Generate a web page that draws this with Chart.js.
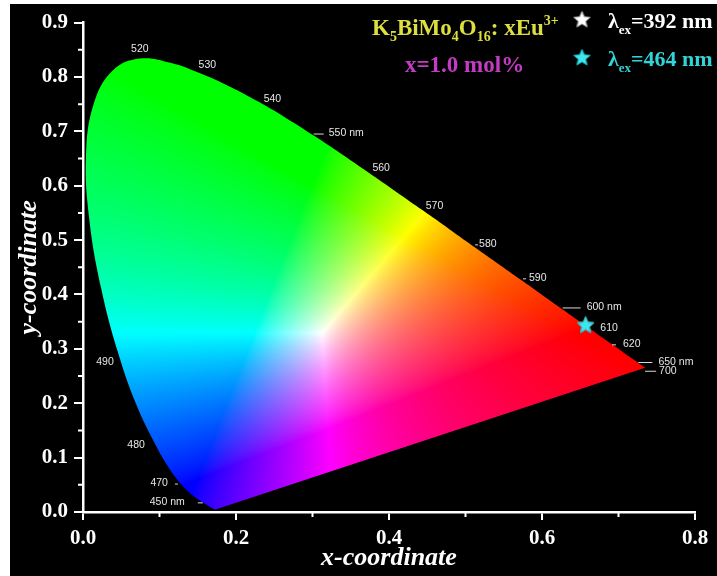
<!DOCTYPE html>
<html>
<head>
<meta charset="utf-8">
<script src="https://cdn.jsdelivr.net/npm/chart.js@4"></script>
<style>
  html, body { margin: 0; padding: 0; background: #fff; }
  #wrap { position: absolute; left: 10px; top: 4px; width: 707px; height: 572px; background: #000; }
</style>
</head>
<body>
<div id="wrap"><canvas id="cie"></canvas></div>
<script>
// CIE 1931 spectral locus, 5 nm steps
var lambdas = [380,385,390,395,400,405,410,415,420,425,430,435,440,445,450,455,460,465,470,475,
  480,485,490,495,500,505,510,515,520,525,530,535,540,545,550,555,560,565,570,575,580,585,590,595,
  600,605,610,615,620,625,630,635,640,645,650,655,660,665,670,675,680,685,690,695,700];
var locusX = [0.1741,0.1740,0.1738,0.1736,0.1733,0.1730,0.1726,0.1721,0.1714,0.1703,0.1689,0.1669,0.1644,0.1611,0.1566,0.1510,0.1440,0.1355,0.1241,0.1096,
  0.0913,0.0687,0.0454,0.0235,0.0082,0.0039,0.0139,0.0389,0.0743,0.1142,0.1547,0.1929,0.2296,0.2658,0.3016,0.3373,0.3731,0.4087,0.4441,0.4788,0.5125,0.5448,0.5752,0.6029,
  0.6270,0.6482,0.6658,0.6801,0.6915,0.7006,0.7079,0.7140,0.7190,0.7230,0.7260,0.7283,0.7300,0.7311,0.7320,0.7327,0.7334,0.7340,0.7344,0.7346,0.7347];
var locusY = [0.0050,0.0050,0.0049,0.0049,0.0048,0.0048,0.0048,0.0048,0.0051,0.0058,0.0069,0.0086,0.0109,0.0138,0.0177,0.0227,0.0297,0.0399,0.0578,0.0868,
  0.1327,0.2007,0.2950,0.4127,0.5384,0.6548,0.7502,0.8120,0.8338,0.8262,0.8059,0.7816,0.7543,0.7243,0.6923,0.6589,0.6245,0.5896,0.5547,0.5202,0.4866,0.4544,0.4242,0.3965,
  0.3725,0.3514,0.3340,0.3197,0.3083,0.2993,0.2920,0.2859,0.2809,0.2770,0.2740,0.2717,0.2700,0.2689,0.2680,0.2673,0.2666,0.2660,0.2656,0.2654,0.2653];

var markedLambdas = [450, 470, 480, 490, 520, 530, 540, 550, 560, 570, 580, 590, 600, 610, 620, 650, 700];
var markedText = ["450 nm", "470", "480", "490", "520", "530", "540", "550 nm", "560", "570", "580", "590", "600 nm", "610", "620", "650 nm", "700"];

var xTicks = [0, 0.2, 0.4, 0.6, 0.8];
var yTicks = [0, 0.1, 0.2, 0.3, 0.4, 0.5, 0.6, 0.7, 0.8, 0.9];
var xMinor = [0.1, 0.3, 0.5, 0.7];
var yMinor = [0.05, 0.15, 0.25, 0.35, 0.45, 0.55, 0.65, 0.75, 0.85];

var sampleExc = ["392", "464"];
var sampleX = [0.657, 0.657];
var sampleY = [0.344, 0.344];

var serif = "'Liberation Serif', 'Times New Roman', serif";

function gam(c) {
  return 255 * Math.pow(c, 0.75);
}

function xyToRgb(x, y) {
  if (y < 0.002) y = 0.002;
  var X = x / y, Y = 1, Z = (1 - x - y) / y;
  var r = 3.2406 * X - 1.5372 * Y - 0.4986 * Z;
  var g = -0.9689 * X + 1.8758 * Y + 0.0415 * Z;
  var b = 0.0557 * X - 0.2040 * Y + 1.0570 * Z;
  r = Math.max(r, 0); g = Math.max(g, 0); b = Math.max(b, 0);
  var m = Math.max(r, g, b);
  if (m > 0) { r /= m; g /= m; b /= m; }
  return [gam(r), gam(g), gam(b)];
}

function makeCieImage(area, xs, ys) {
  var w = Math.ceil(area.right - area.left), h = Math.ceil(area.bottom - area.top);
  var c = document.createElement("canvas");
  c.width = w; c.height = h;
  var g = c.getContext("2d");
  var img = g.createImageData(w, h);
  for (var j = 0; j < h; j++) {
    var yv = ys.getValueForPixel(area.top + j + 0.5);
    for (var i = 0; i < w; i++) {
      var xv = xs.getValueForPixel(area.left + i + 0.5);
      var rgb = xyToRgb(xv, yv);
      var k = (j * w + i) * 4;
      img.data[k] = rgb[0]; img.data[k + 1] = rgb[1]; img.data[k + 2] = rgb[2]; img.data[k + 3] = 255;
    }
  }
  g.putImageData(img, 0, 0);
  return c;
}

function makeStar(fill, edge) {
  var c = document.createElement("canvas");
  c.width = 19; c.height = 19;
  var g = c.getContext("2d");
  g.beginPath();
  for (var k = 0; k < 10; k++) {
    var r = k % 2 ? 4 : 8.8;
    var a = -Math.PI / 2 + k * Math.PI / 5;
    g.lineTo(9.5 + r * Math.cos(a), 10 + r * Math.sin(a));
  }
  g.closePath();
  g.fillStyle = fill;
  g.fill();
  g.lineWidth = 1;
  g.strokeStyle = edge;
  g.stroke();
  return c;
}

var whiteStar = makeStar("#ffffff", "#9a9a9a");
var cyanStar = makeStar("#3fe6ee", "#1aa8b0");

// text with sub/superscripts: parts = [text, 0 normal | 1 sub | 2 sup]
function drawRich(ctx, parts, x, y, size, color) {
  ctx.fillStyle = color;
  ctx.textAlign = "left";
  ctx.textBaseline = "alphabetic";
  parts.forEach(function(p) {
    var s = p[1] ? Math.round(size * 0.6) : size;
    var dy = p[1] === 1 ? size * 0.28 : (p[1] === 2 ? -size * 0.42 : 0);
    ctx.font = "bold " + s + "px " + serif;
    ctx.fillText(p[0], x, y + dy);
    x += ctx.measureText(p[0]).width;
  });
}

// label offset from locus point: [dx, dy, align, tick length]
var labelPlace = {
  450: [-18, 0, "right", -5], 470: [-10, 3, "right", -3], 480: [-8, 5, "right", 0], 490: [-4, 11, "right", 0],
  520: [0, -9, "center", 0], 530: [6, -9, "center", 0], 540: [5, -3, "left", 0], 550: [15, -2, "left", 10],
  560: [4, -4, "left", 0], 570: [3, -4, "left", 0], 580: [4, -3, "left", 3], 590: [6, -3, "left", 3],
  600: [24, -2, "left", 18], 610: [8, -2, "left", 0], 620: [11, 0, "left", 4], 650: [20, -1, "left", 14],
  700: [14, 3, "left", 11]
};

var cieFill = {
  id: "cieFill",
  beforeDatasetsDraw: function(chart) {
    var ctx = chart.ctx, area = chart.chartArea;
    var line = chart.getDatasetMeta(0).dataset;
    if (!chart.$cieImg) chart.$cieImg = makeCieImage(area, chart.scales.x, chart.scales.y);
    line.updateControlPoints(area, "x");
    ctx.save();
    ctx.beginPath();
    line.path(ctx);
    ctx.closePath();
    ctx.clip();
    ctx.drawImage(chart.$cieImg, area.left, area.top);
    ctx.restore();
  },
  afterDatasetsDraw: function(chart) {
    var ctx = chart.ctx;
    var pts = chart.getDatasetMeta(0).data;
    var xs = chart.scales.x, ys = chart.scales.y;
    ctx.save();
    // minor ticks
    ctx.strokeStyle = "#fff";
    ctx.lineWidth = 2;
    ctx.beginPath();
    xMinor.forEach(function(v) {
      var px = xs.getPixelForValue(v);
      ctx.moveTo(px, ys.bottom); ctx.lineTo(px, ys.bottom + 5);
    });
    yMinor.forEach(function(v) {
      var py = ys.getPixelForValue(v);
      ctx.moveTo(xs.left, py); ctx.lineTo(xs.left - 5, py);
    });
    ctx.stroke();
    // wavelength marks
    ctx.font = "10.5px 'Liberation Sans', Arial, sans-serif";
    ctx.textBaseline = "middle";
    ctx.fillStyle = "#e6e6e6";
    ctx.strokeStyle = "#d8d8d8";
    ctx.lineWidth = 1;
    markedLambdas.forEach(function(l, n) {
      var p = pts[lambdas.indexOf(l)];
      var o = labelPlace[l];
      if (o[3]) {
        ctx.beginPath();
        ctx.moveTo(p.x, p.y + o[1] + 0.5);
        ctx.lineTo(p.x + o[3], p.y + o[1] + 0.5);
        ctx.stroke();
      }
      ctx.textAlign = o[2];
      ctx.fillText(markedText[n], p.x + o[0], p.y + o[1]);
    });
    ctx.restore();
  },
  afterDraw: function(chart) {
    var ctx = chart.ctx;
    ctx.save();
    drawRich(ctx, [["K", 0], ["5", 1], ["BiMo", 0], ["4", 1], ["O", 0], ["16", 1], [": xEu", 0], ["3+", 2]], 362, 31, 23, "#dede3e");
    drawRich(ctx, [["x=1.0 mol%", 0]], 395, 68, 23, "#c43cc4");
    var stars = [whiteStar, cyanStar];
    var colors = ["#ffffff", "#33d4d8"];
    var rows = [24, 62];
    for (var i = 0; i < 2; i++) {
      ctx.drawImage(stars[i], 572 - 9.5, rows[i] - 18);
      drawRich(ctx, [["\u03bb", 0], ["ex", 1], ["=" + sampleExc[i] + " nm", 0]], 598, rows[i], 22, colors[i]);
    }
    ctx.restore();
  }
};

function axisFont(size, italic) {
  return { family: serif, weight: "bold", style: italic ? "italic" : "normal", size: size };
}

new Chart(document.getElementById("cie"), {
  type: "scatter",
  data: {
    datasets: [
      {
        label: "locus",
        data: lambdas.map(function(l, i) { return { x: locusX[i], y: locusY[i] }; }),
        showLine: true,
        tension: 0.4,
        pointRadius: 0,
        borderColor: "rgba(0,0,0,0)",
        borderWidth: 0,
        order: 2
      },
      {
        label: "\u03bbex=" + sampleExc[0] + " nm",
        data: [{ x: sampleX[0], y: sampleY[0] }],
        pointStyle: whiteStar,
        pointRadius: 8,
        order: 1
      },
      {
        label: "\u03bbex=" + sampleExc[1] + " nm",
        data: [{ x: sampleX[1], y: sampleY[1] }],
        pointStyle: cyanStar,
        pointRadius: 8,
        order: 0
      }
    ]
  },
  options: {
    responsive: true,
    maintainAspectRatio: false,
    animation: false,
    layout: { padding: { top: 17, right: 22, left: 0, bottom: 0 } },
    plugins: { legend: { display: false }, tooltip: { enabled: false } },
    scales: {
      x: {
        type: "linear",
        min: 0,
        max: 0.8,
        afterBuildTicks: function(s) { s.ticks = xTicks.map(function(v) { return { value: v }; }); },
        afterFit: function(s) { s.height = 64; },
        grid: { drawOnChartArea: false, color: "#fff", lineWidth: 2, tickLength: 8 },
        border: { color: "#fff", width: 2.5 },
        ticks: { color: "#fff", font: axisFont(21), padding: 6, maxRotation: 0,
          callback: function(v) { return v.toFixed(1); } },
        title: { display: true, text: "x-coordinate", color: "#fff", font: axisFont(26, true),
          padding: { top: 0, bottom: 2 } }
      },
      y: {
        type: "linear",
        min: 0,
        max: 0.9,
        afterBuildTicks: function(s) { s.ticks = yTicks.map(function(v) { return { value: v }; }); },
        afterFit: function(s) { s.width = 73; },
        grid: { drawOnChartArea: false, color: "#fff", lineWidth: 2, tickLength: 9 },
        border: { color: "#fff", width: 2.5 },
        ticks: { color: "#fff", font: axisFont(21), padding: 6,
          callback: function(v) { return v.toFixed(1); } },
        title: { display: true, text: "y-coordinate", color: "#fff", font: axisFont(26, true),
          padding: { top: 4, bottom: 0 } }
      }
    }
  },
  plugins: [cieFill]
});
</script>
</body>
</html>
